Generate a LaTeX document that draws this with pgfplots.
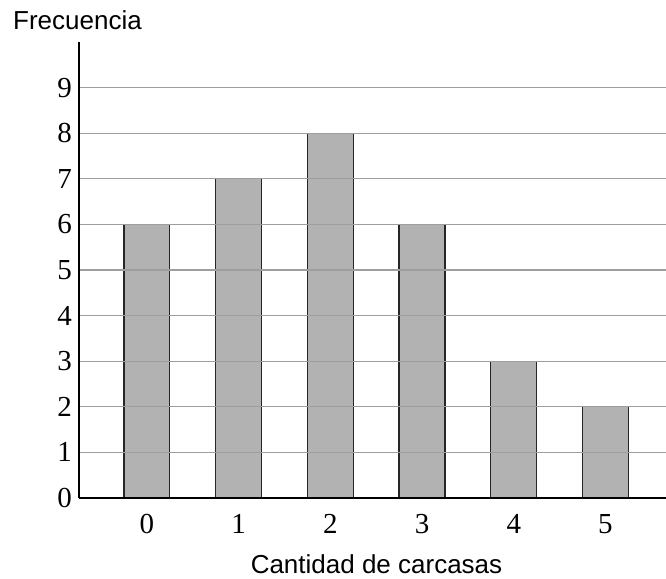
\documentclass[border=0pt]{standalone}
\usepackage{fontspec}
\setmainfont{Liberation Serif}
\setsansfont{Liberation Sans}
\usepackage{pgfplots}
\pgfplotsset{compat=1.18}
\begin{document}
\begin{tikzpicture}
\path[use as bounding box] (-79bp,-81bp) rectangle (587bp,498bp);
\begin{axis}[
  at={(0,0)}, anchor=south west,
  scale only axis, width=587bp, height=456bp,
  xmin=-0.74, xmax=5.66, ymin=0, ymax=10,
  axis x line=bottom, axis y line=left,
  axis line style={line width=2bp, -},
  xtick={0,...,5}, ytick={0,...,9},
  major tick length=0pt,
  ymajorgrids, grid style={draw=black!38, line width=1.3bp},
  ticklabel style={font=\fontsize{29bp}{30bp}\selectfont},
  /pgf/number format/assume math mode=true,
  xticklabel style={anchor=base, yshift=-35bp, inner sep=0pt},
  yticklabel style={anchor=east, xshift=-7bp, inner sep=0pt},
  axis on top,
]
\addplot[ybar, bar width=0.5, fill=gray!60, draw=black!85, line width=1.3bp]
  coordinates {(0,6)(1,7)(2,8)(3,6)(4,3)(5,2)};
\end{axis}
\node[anchor=base west, inner sep=0pt, font=\sffamily\fontsize{26bp}{28bp}\selectfont] at (-66bp,468bp) {Frecuencia};
\node[anchor=base, inner sep=0pt, font=\sffamily\fontsize{26bp}{28bp}\selectfont] at (297.5bp,-75bp) {Cantidad de carcasas};
\end{tikzpicture}
\end{document}
